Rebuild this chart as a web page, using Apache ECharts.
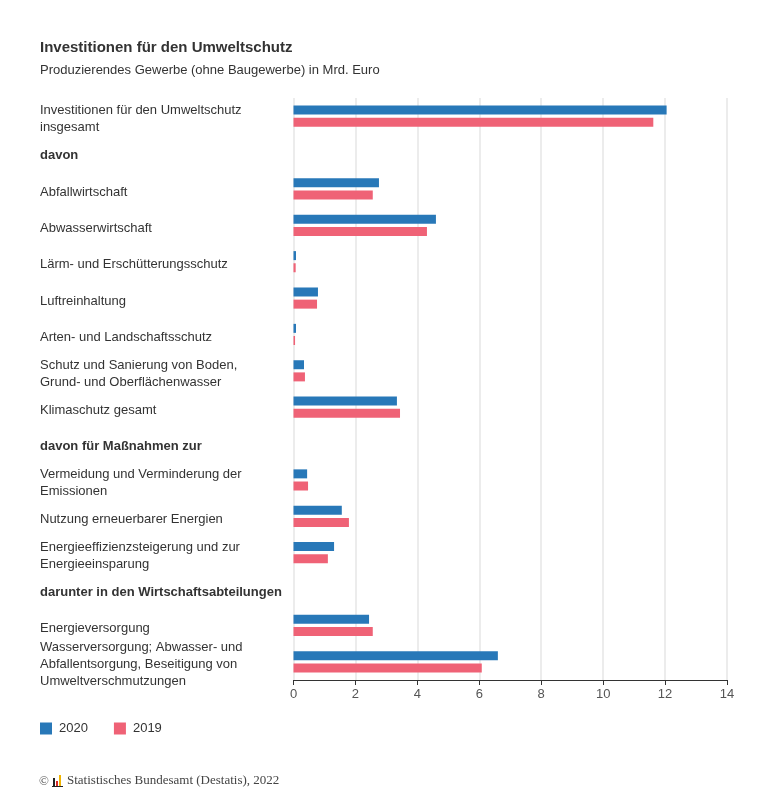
<!DOCTYPE html>
<html><head><meta charset="utf-8">
<script src="https://cdn.jsdelivr.net/npm/echarts@6/dist/echarts.min.js"></script>
<style>html,body{margin:0;padding:0;background:#fff}#c{width:768px;height:800px}</style>
</head><body><div id="c"></div>
<script>
const categories = [
  "Investitionen für den Umweltschutz\ninsgesamt",
  "davon",
  "Abfallwirtschaft",
  "Abwasserwirtschaft",
  "Lärm- und Erschütterungsschutz",
  "Luftreinhaltung",
  "Arten- und Landschaftsschutz",
  "Schutz und Sanierung von Boden,\nGrund- und Oberflächenwasser",
  "Klimaschutz gesamt",
  "davon für Maßnahmen zur",
  "Vermeidung und Verminderung der\nEmissionen",
  "Nutzung erneuerbarer Energien",
  "Energieeffizienzsteigerung und zur\nEnergieeinsparung",
  "darunter in den Wirtschaftsabteilungen",
  "Energieversorgung",
  "Wasserversorgung; Abwasser- und\nAbfallentsorgung, Beseitigung von\nUmweltverschmutzungen"
];
const headerRows = ["davon", "davon für Maßnahmen zur", "darunter in den Wirtschaftsabteilungen"];
const values2020 = [12.05, null, 2.76, 4.60, 0.08, 0.79, 0.08, 0.34, 3.34, null, 0.44, 1.56, 1.31, null, 2.44, 6.60];
const values2019 = [11.62, null, 2.56, 4.31, 0.07, 0.76, 0.05, 0.37, 3.44, null, 0.47, 1.79, 1.11, null, 2.56, 6.08];
const xTicks = [0, 2, 4, 6, 8, 10, 12, 14];

const chart = echarts.init(document.getElementById('c'));
chart.setOption({
  animation: false,
  backgroundColor: '#fff',
  textStyle: { fontFamily: 'Liberation Sans, Arial, sans-serif' },
  title: {
    text: 'Investitionen für den Umweltschutz',
    subtext: 'Produzierendes Gewerbe (ohne Baugewerbe) in Mrd. Euro',
    left: 35, top: 35,
    itemGap: 9,
    textStyle: { fontSize: 15, fontWeight: 'bold', color: '#333' },
    subtextStyle: { fontSize: 13, color: '#333' }
  },
  legend: {
    left: 35, top: 717,
    itemWidth: 12, itemHeight: 12, itemGap: 26,
    icon: 'rect',
    textStyle: { fontSize: 13, color: '#333', padding: [0, 0, 0, 2] },
    data: ['2020', '2019']
  },
  grid: { left: 293.5, right: 41, top: 98, bottom: 120 },
  xAxis: {
    type: 'value', min: 0, max: 14, interval: 2,
    axisLine: { show: true, lineStyle: { color: '#333' } },
    axisTick: { show: true, length: 5, lineStyle: { color: '#333' } },
    axisLabel: { color: '#555', fontSize: 13, margin: 8, formatter: v => xTicks.includes(v) ? String(v) : '' },
    splitLine: { show: true, lineStyle: { color: '#ececec', width: 2 } }
  },
  yAxis: {
    type: 'category', inverse: true, data: categories,
    axisLine: { show: false }, axisTick: { show: false },
    axisLabel: {
      interval: 0, hideOverlap: false,
      align: 'left', margin: 253.5, fontSize: 13, color: '#333', lineHeight: 17,
      padding: [6, 0, 0, 0],
      formatter: v => headerRows.includes(v) ? '{b|' + v + '}' : v,
      rich: { b: { fontWeight: 'bold', fontSize: 13, color: '#333' } }
    }
  },
  series: [
    { name: '2020', type: 'bar', data: values2020, barWidth: 9, barGap: '35%', itemStyle: { color: '#2878b8' } },
    { name: '2019', type: 'bar', data: values2019, barWidth: 9, barGap: '35%', itemStyle: { color: '#ef6276' } }
  ],
  graphic: [
    { type: 'text', left: 39, top: 775, style: { text: '©', fontSize: 13, fill: '#555', fontFamily: 'Liberation Serif, serif' } },
    { type: 'rect', shape: { x: 53, y: 778, width: 2, height: 8 }, style: { fill: '#222' } },
    { type: 'rect', shape: { x: 56, y: 781, width: 2, height: 5 }, style: { fill: '#d62828' } },
    { type: 'rect', shape: { x: 59, y: 775, width: 2, height: 11 }, style: { fill: '#f0b400' } },
    { type: 'rect', shape: { x: 52, y: 786, width: 11, height: 1 }, style: { fill: '#222' } },
    { type: 'text', left: 67, top: 774, style: { text: 'Statistisches Bundesamt (Destatis), 2022', fontSize: 13, fill: '#444', fontFamily: 'Liberation Serif, Times New Roman, serif' } }
  ]
});
</script></body></html>
